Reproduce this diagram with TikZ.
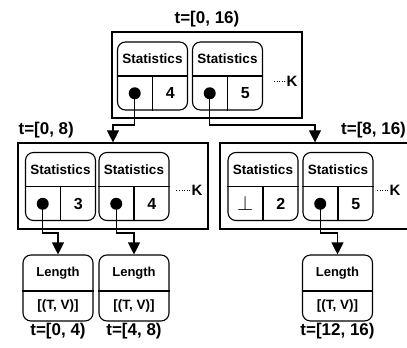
\documentclass[tikz,border=0pt]{standalone}
\usepackage{fontspec}
\setmainfont{Liberation Sans}
\usetikzlibrary{positioning, arrows.meta, calc}

\begin{document}
\begin{tikzpicture}[
    x=1pt, y=-1pt,
    group/.style={
        draw,
        line width=1.2pt,
        minimum width=190pt,
        minimum height=86pt
    },
    rec/.style={
        draw,
        line width=1.1pt,
        rounded corners=8pt,
        minimum width=70pt,
        minimum height=68pt
    },
    leaf/.style={
        rec,
        minimum height=66pt
    },
    head/.style={font=\fontsize{13.5}{15}\selectfont\bfseries},
    num/.style={font=\fontsize{16}{18}\selectfont\bfseries},
    title/.style={font=\fontsize{17}{19}\selectfont\bfseries, inner sep=1pt},
    kmark/.style={font=\fontsize{15}{17}\selectfont\bfseries, inner sep=1pt},
    ptr/.style={circle, fill, inner sep=0pt, minimum size=12pt},
    dots/.style={line width=1pt, dash pattern=on 1pt off 1.6pt},
    arr/.style={
        -{Triangle[width=12pt,length=12pt]},
        line width=1.1pt
    }
]

\clip (0,0) rectangle (407,348);

% Interval groups
\node[group] (root) at (207,75) {};
\node[group] (left) at (113,186) {};
\node[group] (right) at (315,186) {};

\node[title, above=3pt of root] {t=[0, 16)};
\node[title, above right=3pt and 0pt of left.north west] {t=[0, 8)};
\node[title, above left=3pt and 3.5pt of right.north east] {t=[8, 16)};

% Statistics records
\foreach \n/\x/\y/\v in {s1/152.5/76/4, s2/227.5/76/5, sa/60.5/186.5/3,
                         sb/134/186.5/4, sc/263/186.5/2, sd/338/186.5/5} {
    \node[rec] (\n) at (\x,\y) {};
    \draw[line width=1.1pt] (\n.west) -- (\n.east) (\n.center) -- (\n.south);
    \node[head] at ($(\n.north)!.5!(\n.center)$) {Statistics};
    \node[num] at ($(\n.center)!.5!(\n.south east)$) {\v};
}

\node[ptr] (p1) at ($(s1.center)!.5!(s1.south west)$) {};
\node[ptr] (p2) at ($(s2.center)!.5!(s2.south west)$) {};
\node[ptr] (pa) at ($(sa.center)!.5!(sa.south west)$) {};
\node[ptr] (pb) at ($(sb.center)!.5!(sb.south west)$) {};
\node[font=\fontsize{20}{22}\selectfont] (nc) at ($(sc.center)!.5!(sc.south west)$) {$\bot$};
\node[ptr] (pd) at ($(sd.center)!.5!(sd.south west)$) {};

% more records
\node[kmark] (k1) at (292,81) {K};
\node[kmark] (k2) at (197,190) {K};
\node[kmark] (k3) at (395,190) {K};
\draw[dots] (k1.west) -- ++(-13,0);
\draw[dots] (k2.west) -- ++(-14,0);
\draw[dots] (k3.west) -- ++(-13,0);

% Length leaves
\foreach \n/\x/\t in {l1/58/{t=[0, 4)}, l2/134/{t=[4, 8)}, l3/337.5/{t=[12, 16)}} {
    \node[leaf] (\n) at (\x,288) {};
    \draw[line width=1.1pt] ([yshift=-3pt]\n.west) -- ([yshift=-3pt]\n.east);
    \node[head, font=\fontsize{13}{15}\selectfont\bfseries] at ([yshift=15pt]\n.center) {Length};
    \node[font=\fontsize{13.5}{15}\selectfont\bfseries] at ([yshift=-18pt]\n.center) {[(T, V)]};
    \node[title, below=0pt of \n] {\t};
}

% Pointers
\coordinate (bend1) at (0,125);
\coordinate (bend2) at (0,233);
\draw[arr] (p1.center) -- (p1 |- bend1) -| (left.north);
\draw[arr] (p2.center) -- (p2 |- bend1) -| (right.north);
\draw[arr] (pa.center) -- (pa |- bend2) -| (l1.north);
\draw[arr] (pb.center) -- (pb |- bend2) -| (l2.north);
\draw[arr] (pd.center) -- (pd |- bend2) -| (l3.north);

\end{tikzpicture}
\end{document}
